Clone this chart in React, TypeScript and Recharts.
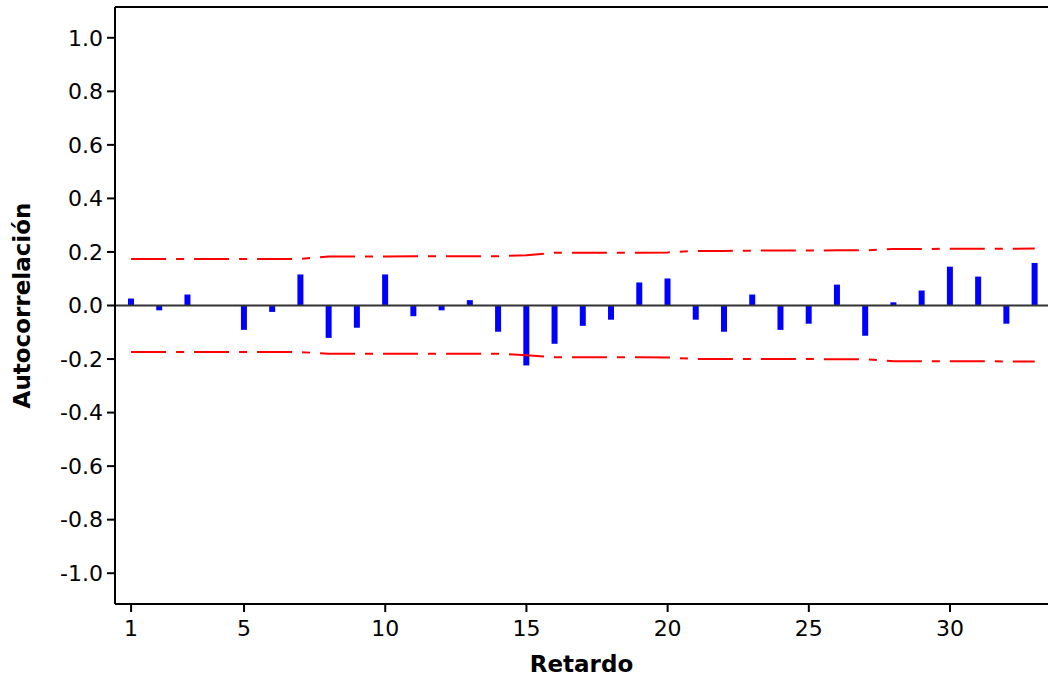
import React from 'react';
import { ComposedChart, Bar, Line, XAxis, YAxis, ReferenceLine } from 'recharts';

const lags = [1,2,3,4,5,6,7,8,9,10,11,12,13,14,15,16,17,18,19,20,21,22,23,24,25,26,27,28,29,30,31,32,33];
const acf = [0.026,-0.018,0.041,0,-0.091,-0.024,0.116,-0.121,-0.083,0.116,-0.040,-0.018,0.020,-0.098,-0.224,-0.143,-0.076,-0.053,0.086,0.101,-0.053,-0.098,0.041,-0.091,-0.068,0.078,-0.113,0.012,0.056,0.145,0.108,-0.068,0.159];
const upperLimit = [0.174,0.174,0.174,0.174,0.174,0.174,0.174,0.183,0.183,0.183,0.184,0.184,0.184,0.184,0.188,0.197,0.197,0.197,0.197,0.198,0.204,0.204,0.205,0.205,0.205,0.206,0.206,0.211,0.211,0.212,0.212,0.212,0.213];
const lowerLimit = [-0.174,-0.174,-0.174,-0.174,-0.174,-0.174,-0.174,-0.180,-0.180,-0.180,-0.180,-0.180,-0.180,-0.180,-0.186,-0.193,-0.193,-0.193,-0.193,-0.194,-0.200,-0.200,-0.200,-0.200,-0.200,-0.201,-0.201,-0.208,-0.208,-0.208,-0.208,-0.209,-0.209];
const xTicks = [1,5,10,15,20,25,30];
const yTicks = [-1,-0.8,-0.6,-0.4,-0.2,0,0.2,0.4,0.6,0.8,1];

const data = lags.map((lag, i) => ({ lag, acf: acf[i], upper: upperLimit[i], lower: lowerLimit[i] }));

const Y_MAX = 1.115;
const tickFont = { fontSize: 22, fill: '#000', fontFamily: 'DejaVu Sans' };
const labelFont = { fontSize: 23, fill: '#000', fontFamily: 'DejaVu Sans', fontWeight: 'bold' as const };

export default function App() {
  return (
    <div style={{ position: 'absolute', left: 0, top: 0, background: '#fff' }}>
      <ComposedChart width={1049} height={677} data={data} margin={{ top: 7, right: 1, bottom: 0, left: 0 }}>
        <XAxis
          dataKey="lag"
          type="number"
          domain={[0.43, 33.47]}
          allowDataOverflow
          ticks={xTicks}
          height={73}
          tickSize={8}
          tickMargin={8}
          tick={tickFont}
          stroke="#000"
          strokeWidth={2}
          tickLine={{ stroke: '#000', strokeWidth: 2 }}
          label={{ value: 'Retardo', position: 'insideBottom', offset: 5, style: labelFont }}
        />
        <YAxis
          type="number"
          domain={[-Y_MAX, Y_MAX]}
          allowDataOverflow
          ticks={yTicks}
          width={115}
          tickSize={8}
          tickMargin={4}
          tick={tickFont}
          tickFormatter={(v: number) => v.toFixed(1)}
          stroke="#000"
          strokeWidth={2}
          tickLine={{ stroke: '#000', strokeWidth: 2 }}
          label={{ value: 'Autocorrelación', angle: -90, position: 'insideLeft', offset: 22, style: { ...labelFont, textAnchor: 'middle' } }}
        />
        <ReferenceLine y={Y_MAX} stroke="#000" strokeWidth={2} ifOverflow="visible" />
        <ReferenceLine y={0} stroke="#333" strokeWidth={2} />
        <Bar dataKey="acf" fill="#0000ff" barSize={6} isAnimationActive={false} />
        <Line dataKey="upper" type="linear" stroke="#ff0000" strokeWidth={2} strokeDasharray="35 10 8 10" dot={false} isAnimationActive={false} />
        <Line dataKey="lower" type="linear" stroke="#ff0000" strokeWidth={2} strokeDasharray="35 10 8 10" dot={false} isAnimationActive={false} />
      </ComposedChart>
    </div>
  );
}
